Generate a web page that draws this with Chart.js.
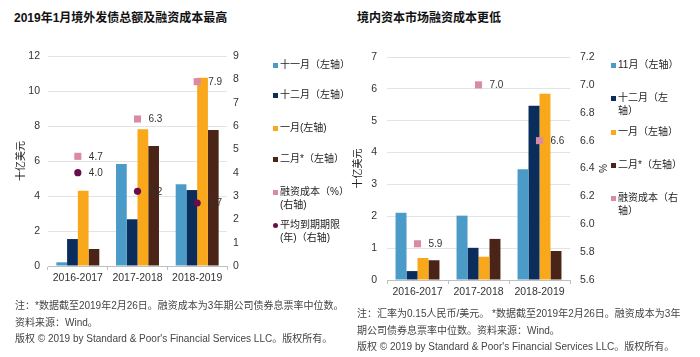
<!DOCTYPE html>
<html><head><meta charset="utf-8">
<script src="https://cdn.jsdelivr.net/npm/chart.js@4"></script>
<style>
body{margin:0;width:700px;height:357px;background:#fff;position:relative;overflow:hidden;font-family:"Liberation Sans","Noto Sans CJK SC",sans-serif;color:#222}
.abs{position:absolute}
.title{font-weight:bold;font-size:12px;line-height:14px;white-space:nowrap;color:#111}
.note{font-size:10px;color:#444;line-height:16.5px;white-space:nowrap}
.it{position:absolute;font-size:10px;line-height:12.5px;color:#222;white-space:nowrap}
.mk{position:absolute;width:5px;height:5px;top:4px}
</style></head>
<body>
<div class="abs title" style="left:14px;top:11px">2019年1月境外发债总额及融资成本最高</div>
<div class="abs title" style="left:357px;top:11px">境内资本市场融资成本更低</div>
<canvas id="c1" class="abs" width="262" height="300" style="left:0;top:0"></canvas>
<canvas id="c2" class="abs" width="272" height="300" style="left:340px;top:0"></canvas>
<div id="leg1"></div>
<div id="leg2"></div>
<div class="abs note" style="left:15px;top:298px">注：*数据截至2019年2月26日。融资成本为3年期公司债券息票率中位数。<br>资料来源：Wind。<br>版权 © 2019 by Standard &amp; Poor's Financial Services LLC。版权所有。</div>
<div class="abs note" style="left:357px;top:306px">注：汇率为0.15人民币/美元。 *数据截至2019年2月26日。融资成本为3年<br>期公司债券息票率中位数。资料来源：Wind。<br>版权 © 2019 by Standard &amp; Poor's Financial Services LLC。版权所有。</div>
<script>
// ---- data ----
const categories = ['2016-2017','2017-2018','2018-2019'];
// left chart (十亿美元, left axis)
const offNov = [0.21, 5.83, 4.67];
const offDec = [1.54, 2.67, 4.34];
const offJan = [4.30, 7.81, 10.76];
const offFeb = [0.97, 6.86, 7.77];
// right axis
const offCost = [4.7, 6.3, 7.9];
const offMaturity = [4.0, 3.2, 2.7];
const leftTicksL = [0,2,4,6,8,10,12];
const leftTicksR = [0,1,2,3,4,5,6,7,8,9];
// right chart
const onNov = [2.11, 2.02, 3.48];
const onDec = [0.28, 1.01, 5.47];
const onJan = [0.69, 0.73, 5.85];
const onFeb = [0.62, 1.29, 0.91];
const onCost = [5.86, 7.0, 6.6];
const rightTicksL = [0,1,2,3,4,5,6,7];
const rightTicksR = [5.6,5.8,6.0,6.2,6.4,6.6,6.8,7.0,7.2];

const C = {nov:'#4b9bc8', dec:'#0b2d5c', jan:'#f9a71b', feb:'#4a2416', cost:'#d98aa9', mat:'#6b0c4f'};
const FONT = '"Liberation Sans","Noto Sans CJK SC",sans-serif';
Chart.defaults.font.family = FONT;
Chart.defaults.color = '#333';
Chart.defaults.animation = false;

const valueLabels = {
  id:'valueLabels',
  afterDatasetsDraw(chart){
    const ctx = chart.ctx;
    chart.data.datasets.forEach((ds,i)=>{
      if(!ds.showValue) return;
      chart.getDatasetMeta(i).data.forEach((pt,j)=>{
        ctx.save();
        ctx.font = '10px '+FONT; ctx.fillStyle='#333';
        ctx.textAlign='left'; ctx.textBaseline='middle';
        ctx.fillText(ds.data[j].toFixed(1), pt.x+11, pt.y+0.5);
        ctx.restore();
      });
    });
  }
};

function bar(label, data, color){
  return {type:'bar', label, data, backgroundColor:color, yAxisID:'y', order:2,
    categoryPercentage:0.72, barPercentage:1.0};
}
function pts(label, data, color, style, r){
  return {type:'line', label, data, yAxisID:'y1', order:1, showLine:false,
    pointStyle:style, pointRadius:r, pointHoverRadius:r, pointBackgroundColor:color,
    pointBorderWidth:0, borderColor:color, backgroundColor:color, showValue:true};
}
function makeChart(id, datasets, o){
  return new Chart(document.getElementById(id), {
    data:{labels:categories, datasets},
    options:{
      responsive:false, devicePixelRatio:1, animation:false,
      layout:{padding:{top:o.top, bottom:o.bottom, left:0, right:0}},
      plugins:{legend:{display:false}, tooltip:{enabled:false}},
      scales:{
        x:{type:'category', offset:true,
          grid:{offset:true, drawOnChartArea:false, drawTicks:true, tickLength:4, color:'#bfbfbf'},
          border:{display:true, color:'#bfbfbf'},
          ticks:{padding:2, font:{size:10.5}, color:'#333'},
          afterFit:s=>{s.height=o.xh;}},
        y:{position:'left', min:o.lmin, max:o.lmax,
          afterBuildTicks:s=>{s.ticks=o.lticks.map(v=>({value:v}));},
          grid:{color:'#e3e3e3', drawTicks:false}, border:{display:false},
          ticks:{padding:o.lpad, font:{size:10.5}, color:'#333'},
          title:{display:true, text:'十亿美元', font:{size:10}, color:'#222', padding:{top:o.ltp,bottom:0}},
          afterFit:s=>{s.width=o.lw;}},
        y1:{position:'right', min:o.rmin, max:o.rmax,
          afterBuildTicks:s=>{s.ticks=o.rticks.map(v=>({value:v}));},
          grid:{display:false, drawTicks:false}, border:{display:false},
          ticks:{padding:o.rpad, font:{size:10.5}, color:'#333', callback:o.rfmt},
          title:{display:!!o.rtitle, text:o.rtitle||'', font:{size:10}, color:'#222', padding:{top:o.rtp||0,bottom:0}},
          afterFit:s=>{s.width=o.rw;}}
      }
    },
    plugins:[valueLabels]
  });
}

makeChart('c1', [
  bar('十一月（左轴）', offNov, C.nov),
  bar('十二月（左轴）', offDec, C.dec),
  bar('一月(左轴)', offJan, C.jan),
  bar('二月*（左轴）', offFeb, C.feb),
  pts('融资成本 (%)(右轴)', offCost, C.cost, 'rect', 5),
  pts('平均到期期限(年)（右轴)', offMaturity, C.mat, 'circle', 3.6)
], {top:56, bottom:10, xh:24, lmin:0, lmax:12, lticks:leftTicksL, lpad:8, ltp:15, lw:48,
    rmin:0, rmax:9, rticks:leftTicksR, rpad:6, rw:35, rfmt:v=>String(v)});

makeChart('c2', [
  bar('11月（左轴）', onNov, C.nov),
  bar('十二月（左轴）', onDec, C.dec),
  bar('一月（左轴）', onJan, C.jan),
  bar('二月*（左轴）', onFeb, C.feb),
  pts('融资成本（右轴）', onCost, C.cost, 'rect', 5)
], {top:57, bottom:0, xh:20, lmin:0, lmax:7, lticks:rightTicksL, lpad:10, ltp:12, lw:47,
    rmin:5.6, rmax:7.2, rticks:rightTicksR, rpad:10, rw:42, rfmt:v=>Number(v).toFixed(1),
    rtitle:'%', rtp:4});

// ---- legends (HTML) ----
function legend(el, items, mx, tx){
  const box = document.getElementById(el);
  items.forEach(([html, color, y, round])=>{
    const d = document.createElement('div');
    d.className='it';
    d.style.left = mx+'px'; d.style.top = (y-6)+'px'; d.style.paddingLeft=(tx-mx)+'px';
    d.innerHTML = '<span class="mk" style="left:0;background:'+color+(round?';border-radius:50%':'')+'"></span>'+html;
    box.appendChild(d);
  });
}
legend('leg1', [
  ['十一月（左轴）', C.nov, 65],
  ['十二月（左轴）', C.dec, 95],
  ['一月(左轴)', C.jan, 128],
  ['二月*（左轴）', C.feb, 159],
  ['融资成本（%）<br>(右轴)', C.cost, 192],
  ['平均到期期限<br>(年)（右轴)', C.mat, 225, true]
], 273, 280);
legend('leg2', [
  ['11月（左轴）', C.nov, 65],
  ['十二月（左<br>轴）', C.dec, 98],
  ['一月（左轴）', C.jan, 132],
  ['二月*（左轴）', C.feb, 165],
  ['融资成本（右<br>轴）', C.cost, 198]
], 611, 618);
</script>
</body></html>
